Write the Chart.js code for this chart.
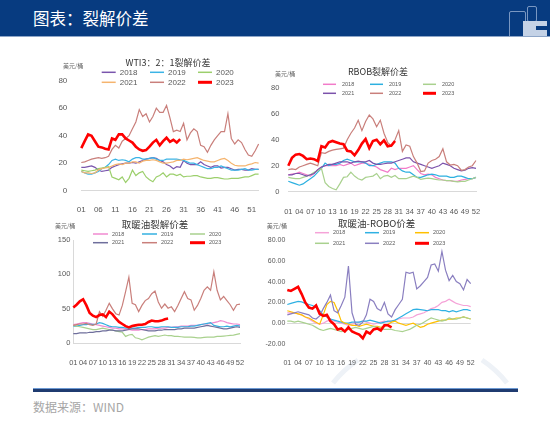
<!DOCTYPE html>
<html>
<head>
<meta charset="utf-8">
<script src="https://cdn.jsdelivr.net/npm/chart.js@4.4.0/dist/chart.umd.min.js"></script>
<style>
body { margin: 0; width: 550px; height: 424px; background: #fff; position: relative; overflow: hidden; font-family: "Noto Sans CJK SC", sans-serif; }
#hdr { position: absolute; left: 0; top: 0; width: 550px; height: 36px; background: #073b80; border-bottom: 1px solid #8ea6c8; overflow: hidden; }
#hdr .t { position: absolute; left: 33px; top: 8px; color: #fff; font-size: 16.5px; line-height: 20px; }
.lg { position: absolute; border: 1px solid rgba(150, 175, 210, 0.8); border-radius: 2px; }
.lw { position: absolute; background: #c4d2e6; }
#ln1 { position: absolute; left: 33px; top: 388px; width: 485px; height: 1px; background: #6d9ad3; }
#ln2 { position: absolute; left: 33px; top: 389px; width: 485px; height: 3px; background: #1f3b70; }
#src { position: absolute; left: 33px; top: 398px; font-size: 12px; color: #a6a6a6; }
#arc { position: absolute; left: 0; top: 0; }
canvas { position: absolute; }
</style>
</head>
<body>
<svg id="arc" width="550" height="424">
  <path d="M333,383 A108.6,108.6 0 0 1 358,360" fill="none" stroke="#eef2f7" stroke-width="5"/>
  <path d="M482,360 A108.6,108.6 0 0 1 507,383" fill="none" stroke="#eef2f7" stroke-width="5"/>
</svg>
<div id="hdr"><div class="t">图表：裂解价差</div>
  <div class="lg" style="left:509px;top:11px;width:15px;height:30px"></div>
  <div class="lg" style="left:527px;top:6px;width:8px;height:14px"></div>
  <div class="lw" style="left:523px;top:21px;width:24px;height:16px"></div>
  <div style="position:absolute;left:536px;top:26px;width:11px;height:4px;background:#073b80"></div>
</div>
<canvas id="c1" width="230" height="165" style="left:40px;top:50px"></canvas>
<canvas id="c2" width="255" height="160" style="left:265px;top:55px"></canvas>
<canvas id="c3" width="225" height="153" style="left:40px;top:212px"></canvas>
<canvas id="c4" width="262" height="153" style="left:262px;top:212px"></canvas>
<div id="ln1"></div><div id="ln2"></div>
<div id="src">数据来源：WIND</div>
<script>
const years = ['2018', '2019', '2020', '2021', '2022', '2023'];
const weeks = [];
for (let w = 1; w <= 53; w++) weeks.push(w < 10 ? '0' + w : String(w));

// WTI 3:2:1
const wti2018 = [17,17,17.5,18,17,15,14,14.5,15,17,18,19,19.5,20,20,20.5,20,21,22,23,23.5,24,23.5,22,21,19,18,16,17.5,17,22,20,19,19,19,21,19,18,17,18,18,16.5,17,17,16,15,15.5,15.5,15,15,16,15.5,15.5];
const wti2019 = [14,13,12,12,13,14,16,17,19,22,23,22,22.5,22,21,23,24,24,23,23,23.5,24,23,22,22,23,23,23,23,22.5,22,21,20,20,19,18,17,16,16,17,17,18,17,16,15,15,15,15.5,16,15,15,15.5,15.5];
const wti2020 = [15,14.5,14,14.5,15,16,16.5,17,17.5,10,9,8,10,6,9,15,11,13,14,10,8,6.5,10,11,13,10,12,12,11,12,10,10.5,10.5,11,11,10,9.5,9,9,9.5,9.5,9,8.5,8.5,9,9,9,9.5,10,10,11,12,12];
const wti2021 = [14,13,13,12.5,13,15,16,16.5,17,18,19,19.5,19,20,20,21,21,20,21.5,22,22,22.5,22,21,20,20,20.5,21,22,22,23,22.5,23,23.5,24,23,22,21.5,21,21,22,23,23.5,22,20,18.5,18,18,18,19,19.5,20.5,20];
const wti2022 = [20.5,21,22,23,23.5,24,23.5,24,25,30,33,31,36,38,40,45,50,59,54,56,50,54,60,57,57,62,53,43,44,43,49,37,42,45,43,33,32,28,33,37,40,43,43,56,38,34,37,35,30,26,25,29,34];
const wti2023 = [31,36,41,40,36,32,31.5,30.5,30,38,37,41,41,38,36.5,35,32,30,29,29.5,32,35,37,33,36,38.5,35.5,37,35,37.5];

// RBOB
const rbob2018 = [13,13.5,14,15,14,13,12,14,17,19,20,20,20,20,21,20,21,22,20,21,22,22,21,20,19,17,16,15,18,17,18,18,18,19,20,17,14,13,13.5,13,11,10,9,8.5,8.5,8,8,9,9.5,10,10,11];
const rbob2019 = [8,7,6,5,6,8,10,12,15,18,22,20,21,21,22,24,25,24,23,23,23,22,20,20,21,22,23,23,23,22,18,16,15,15,13,11,11,12,13,13.5,13,12,12,12,11,11,12,12,11,10,10,11];
const rbob2020 = [11,10.5,10,10,11,12,13,15,16,18,7,4,2.5,1.5,6,11,11.5,15,12,10,9,11,11.5,12,14,10,12,12.5,11,12.5,10,10,10,11,12,11,9.5,10,10.5,10,9.5,9,9,8.5,8.5,8,7.5,8,8,9,10,11];
const rbob2021 = [13,13,14,14,13,12,13,14,17,19,20,21,21,22,23,23,23,22,23,23.5,23,23,24,22,21,21,21.5,22,22,23,24,25,26,26,23,22,21,20,19,18,19,20,22,21,20,18,17,16,16.5,18,18.5,18];
const rbob2022 = [17,17.5,17,19,20,21,22,21,20,30,29.5,31,32,32.5,33,33.5,40,45,49,55,47,54,59,56,50,55,45,38,35,40,47,31,36,35,27,22,15.5,16,22,24,25,27,33,23,20.5,21,20,16.5,17,19,20,24];
const rbob2023 = [20,26,28.5,29,27.5,25,25.5,25,23.5,35,34,38,39,38,37,36.5,31.5,31,28,32,37,40.5,33.5,39,40,36.5,39.5,35,35.5,39];

// heating oil crack
const ho2018 = [27,28,29,30,30,29,28,27,26,25,24,23,22,22,21,21,20,20,19,19,19,20,20,21,21,21,22,22,22,23,23,24,24,25,25,25,26,26,26,27,28,28,29,30,31,33,32,30,29,28,28,27];
const ho2019 = [25,25,26,27,27,28,27,28,30,29,27,25,24,24,23,23,22,22,22,22,23,23,23,24,24,23,23,24,24,24,23,23,23,24,24,24,25,25,26,27,28,29,30,26,25,24,24,25,24,25,26,25];
const ho2020 = [26,25,24,23,22,21,20,20,21,22,21,20,19,18,17,16,10,12,13,8,7,5,7,9,10,11,10,11,12,11,11,10,10,9.5,9,9,9,8.5,8,8,8.5,9,9,9,10,10,10.5,11,11.5,12,13,14];
const ho2021 = [14,14,15,15,15,16,16,17,17,18,18,19,19,18,18,18,19,20,21,21,21,20,19,18,18,18,19,19,20,20,20,20,21,21,22,22,22,22,23,24,25,26,25,24,23,22,21,21,22,23,24,23];
const ho2022 = [26,27,28,28,29,27,26,28,46,39,48,58,50,43,41,55,75,96,58,56,46,55,62,65,72,76,60,51,57,51,53,46,55,65,75,65,63,48,55,65,77,82,77,104,77,63,68,62,56,48,56,57];
const ho2023 = [52,56,61,64,55,44,40,38,41,42,38,46,42,36,31,28,25,23,25,26,27,27,28,31,33,32,32,33,35,36];

// heating oil - RBOB
const hr2018 = [10,10,10,9,8,6,4,2,0,-1,0,2,3,2,1,0,-1,-2,-1,0,1,2,1,0,-1,0,1,2,1,2,3,4,5,5,5,6,8,9,10,12,14,15,17,20,21,23,21,19,18,17,17,16];
const hr2019 = [18,19,20,21,20.5,19,18,17,15,12,8,6,4,3,2,1,0,0,1,1,1,2,2,3,2,1,0,1,2,2,3,5,7,9,11,13,13.5,13,12.5,12,13,13,13,12,12,11,12,11,12,13,13,12];
const hr2020 = [12,11,10,9,8,6,5,3,1,-1,8,18,21,20,12,2,0,-1,-2,-2,-3,-2,-1,-2,-3,-3,-4,-3,-1,1,2,0,-1,-2,-1,0,-2,-4,-3,-1,0,1,2,3,3,4,4,5,5,6,5,4];
const hr2021 = [2,2,1,2,1,0,-1,-2,-4,-6,-7,-6,-5,-6,-7,-8,-7,-6,-5,-4,-5,-6,-5,-4,-3,-4,-5,-6,-6,-6,-7,-7.5,-8,-7,-6,-4,-2,-1,1,3,5,4,3,2,3,5,4,4,5,6,5,4];
const hr2022 = [8,9,10,11,10,9,8,5,4,7,14,20,27,12,10,17,25,55,10,-1,-2,1,8,23,21,14,12,20,9,6,13,18,23,49,48,49,33,36,40,44,56,57,50,69,51,41,46,40,38,32,42,38];
const hr2023 = [32,31,33,35,28,20,15,14,17,9,7,8,2,-1,-6,-5,-8,-4,-8,-9.5,-11,-14.5,-8,-10,-6,-5,-7,-2,-2,-4];

const decoPlugin = {
    id: 'deco',
    afterDraw(chart, args, o) {
        const ctx = chart.ctx;
        ctx.save();
        ctx.textBaseline = 'middle';
        ctx.textAlign = 'center';
        ctx.fillStyle = '#333';
        ctx.font = o.titleFont;
        ctx.fillText(o.title, o.titleX, o.titleY);
        ctx.textAlign = 'left';
        ctx.fillStyle = '#666';
        ctx.font = '6px "Noto Sans CJK SC"';
        ctx.fillText('美元/桶', o.unitX, o.unitY);
        ctx.font = o.legFont;
        ctx.fillStyle = '#595959';
        chart.data.datasets.forEach((ds, i) => {
            const x = o.cols[i % 3];
            const y = o.rows[Math.floor(i / 3)];
            ctx.strokeStyle = ds.borderColor;
            ctx.lineWidth = i === 5 ? 3 : 1.5;
            ctx.beginPath();
            ctx.moveTo(x, y);
            ctx.lineTo(x + o.lineLen, y);
            ctx.stroke();
            ctx.fillText(ds.label, x + o.lineLen + o.gap, y);
        });
        ctx.restore();
    }
};

function makeChart(id, cfg) {
    const n = cfg.n;
    const datasets = cfg.series.map((arr, i) => ({
        label: years[i],
        data: arr,
        borderColor: cfg.colors[i],
        borderWidth: i === 5 ? 2.6 : 1.2,
        pointRadius: 0,
        tension: 0,
        fill: false,
        order: 5 - i
    }));
    const tickFont = { family: 'Liberation Sans', size: cfg.tickSize };
    return new Chart(document.getElementById(id).getContext('2d'), {
        type: 'line',
        data: { labels: weeks.slice(0, n), datasets: datasets },
        options: {
            responsive: false,
            animation: false,
            layout: { padding: { left: 0, top: cfg.padTop, right: cfg.padRight, bottom: 0 } },
            plugins: {
                legend: { display: false },
                tooltip: { enabled: false },
                deco: cfg.deco
            },
            scales: {
                x: {
                    offset: false,
                    grid: { display: false },
                    border: { display: cfg.xBorder, color: '#d9d9d9' },
                    ticks: {
                        autoSkip: false, maxRotation: 0, minRotation: 0,
                        padding: cfg.xPad, color: '#595959', font: tickFont,
                        callback: (v, i) => (i % cfg.step === 0 ? weeks[i] : '')
                    },
                    afterFit: s => { s.height = cfg.xh; }
                },
                y: {
                    min: cfg.min, max: cfg.max,
                    grid: {
                        display: cfg.zeroLine, drawTicks: false,
                        color: c => (c.tick && c.tick.value === 0 ? '#d9d9d9' : 'rgba(0,0,0,0)')
                    },
                    border: { display: cfg.yBorder, color: '#d9d9d9' },
                    ticks: {
                        stepSize: cfg.stepSize, padding: cfg.yPad, color: '#595959', font: tickFont,
                        callback: v => (cfg.fixed ? v.toFixed(2) : v)
                    },
                    afterFit: s => { s.width = cfg.yw; }
                }
            }
        },
        plugins: [decoPlugin]
    });
}

makeChart('c1', {
    n: 53, step: 5, series: [wti2018, wti2019, wti2020, wti2021, wti2022, wti2023],
    colors: ['#7a55ad', '#3bb4e6', '#9ccf6c', '#f5b46e', '#c97f7b', '#ff0000'],
    min: 0, max: 80, stepSize: 20, fixed: false, tickSize: 8,
    yw: 41.3, xh: 24.3, padTop: 30.7, padRight: 11.4, yPad: 14, xPad: 6,
    xBorder: true, yBorder: false, zeroLine: false,
    deco: { title: 'WTI3：2：1裂解价差', titleFont: '9px "Noto Sans CJK SC"', titleX: 128, titleY: 12.7,
        unitX: 23, unitY: 16, legFont: '8px "Liberation Sans"', cols: [61.7, 110, 158], rows: [22.3, 32.3], lineLen: 14, gap: 4 }
});

makeChart('c2', {
    n: 52, step: 3, series: [rbob2018, rbob2019, rbob2020, rbob2021, rbob2022, rbob2023],
    colors: ['#f27bc9', '#2cb0e0', '#a9d18e', '#7b52ab', '#c97f7b', '#ff0000'],
    min: 0, max: 80, stepSize: 20, fixed: false, tickSize: 7.5,
    yw: 23.3, xh: 23.3, padTop: 32.7, padRight: 44, yPad: 9, xPad: 8,
    xBorder: true, yBorder: false, zeroLine: false,
    deco: { title: 'RBOB裂解价差', titleFont: '9px "Noto Sans CJK SC"', titleX: 113, titleY: 16.7,
        unitX: 10, unitY: 19, legFont: '5.5px "Liberation Sans"', cols: [58, 105, 158], rows: [29.3, 38.3], lineLen: 13, gap: 6 }
});

makeChart('c3', {
    n: 52, step: 3, series: [ho2018, ho2019, ho2020, ho2021, ho2022, ho2023],
    colors: ['#f08ad0', '#35b1e0', '#a9d18e', '#6f6f9c', '#c97f7b', '#ff0000'],
    min: 0, max: 150, stepSize: 50, fixed: false, tickSize: 7.5,
    yw: 33.3, xh: 21.7, padTop: 28, padRight: 25, yPad: 3, xPad: 7,
    xBorder: true, yBorder: true, zeroLine: false,
    deco: { title: '取暖油裂解价差', titleFont: '9.5px "Noto Sans CJK SC"', titleX: 115, titleY: 12,
        unitX: 15, unitY: 13.7, legFont: '5.5px "Liberation Sans"', cols: [53, 102, 150], rows: [22, 30.7], lineLen: 15, gap: 4 }
});

makeChart('c4', {
    n: 52, step: 3, series: [hr2018, hr2019, hr2020, hr2021, hr2022, hr2023],
    colors: ['#f5a3d8', '#30b1e3', '#ffc000', '#a9d18e', '#8a7fc0', '#ff0000'],
    min: -20, max: 80, stepSize: 20, fixed: true, tickSize: 7,
    yw: 25.3, xh: 21, padTop: 28, padRight: 53.3, yPad: 2, xPad: 7,
    xBorder: false, yBorder: false, zeroLine: true,
    deco: { title: '取暖油-ROBO价差', titleFont: '9.5px "Noto Sans CJK SC"', titleX: 114.7, titleY: 11.3,
        unitX: 4.7, unitY: 13.7, legFont: '5.5px "Liberation Sans"', cols: [53, 103, 153], rows: [20.7, 31.3], lineLen: 14, gap: 4 }
});
</script>
</body>
</html>
